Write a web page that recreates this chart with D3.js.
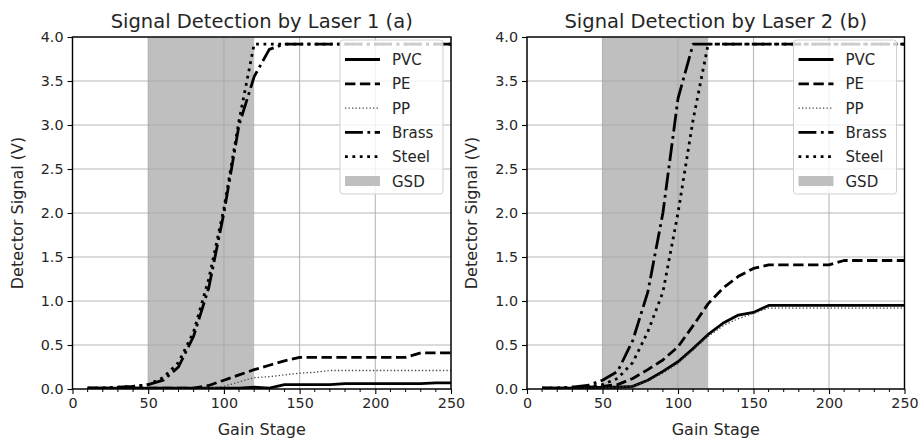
<!DOCTYPE html>
<html>
<head>
<meta charset="utf-8">
<script src="https://cdn.jsdelivr.net/npm/d3@7"></script>
<style>
  body { margin: 0; background: #fff; }
  svg { display: block; font-family: "DejaVu Sans", sans-serif; }
</style>
</head>
<body>
<svg id="chart" width="921" height="439"></svg>
<script>
// gain stages sampled (x axis)
const gainStage = [10, 20, 30, 40, 50, 60, 70, 80, 90, 100, 110, 120, 130,
                   140, 150, 160, 170, 180, 190, 200, 210, 220, 230, 240, 250];

// Laser 1 (a)
const pvc1   = [0.01, 0.01, 0.01, 0.01, 0.01, 0.01, 0.01, 0.01, 0.01, 0.01, 0.01, 0.02, 0.01,
                0.05, 0.05, 0.05, 0.05, 0.06, 0.06, 0.06, 0.06, 0.06, 0.06, 0.07, 0.07];
const pe1    = [0.01, 0.01, 0.01, 0.01, 0.01, 0.01, 0.01, 0.01, 0.04, 0.10, 0.16, 0.22, 0.27,
                0.32, 0.36, 0.36, 0.36, 0.36, 0.36, 0.36, 0.36, 0.36, 0.41, 0.41, 0.41];
const pp1    = [0.00, 0.00, 0.00, 0.00, 0.00, 0.00, 0.00, 0.00, 0.01, 0.03, 0.08, 0.13, 0.14,
                0.16, 0.18, 0.19, 0.21, 0.21, 0.21, 0.21, 0.21, 0.21, 0.21, 0.21, 0.21];
const brass1 = [0.01, 0.01, 0.02, 0.03, 0.05, 0.10, 0.25, 0.60, 1.15, 2.00, 3.00, 3.55, 3.86,
                3.92, 3.92, 3.92, 3.92, 3.92, 3.92, 3.92, 3.92, 3.92, 3.92, 3.92, 3.92];
const steel1 = [0.01, 0.01, 0.02, 0.03, 0.05, 0.13, 0.30, 0.65, 1.25, 2.05, 3.05, 3.92, 3.92,
                3.92, 3.92, 3.92, 3.92, 3.92, 3.92, 3.92, 3.92, 3.92, 3.92, 3.92, 3.92];

// Laser 2 (b)
const pvc2   = [0.01, 0.01, 0.01, 0.01, 0.02, 0.02, 0.03, 0.10, 0.20, 0.31, 0.46, 0.62, 0.75,
                0.84, 0.87, 0.95, 0.95, 0.95, 0.95, 0.95, 0.95, 0.95, 0.95, 0.95, 0.95];
const pe2    = [0.01, 0.01, 0.01, 0.02, 0.03, 0.05, 0.12, 0.22, 0.33, 0.48, 0.72, 0.97, 1.15,
                1.28, 1.37, 1.41, 1.41, 1.41, 1.41, 1.41, 1.46, 1.46, 1.46, 1.46, 1.46];
const pp2    = [0.00, 0.00, 0.00, 0.01, 0.01, 0.02, 0.03, 0.09, 0.18, 0.29, 0.44, 0.60, 0.72,
                0.80, 0.86, 0.92, 0.92, 0.92, 0.92, 0.92, 0.92, 0.92, 0.92, 0.92, 0.92];
const brass2 = [0.01, 0.01, 0.02, 0.04, 0.10, 0.20, 0.55, 1.10, 2.00, 3.30, 3.92, 3.92, 3.92,
                3.92, 3.92, 3.92, 3.92, 3.92, 3.92, 3.92, 3.92, 3.92, 3.92, 3.92, 3.92];
const steel2 = [0.01, 0.01, 0.02, 0.03, 0.05, 0.12, 0.30, 0.65, 1.10, 2.00, 3.06, 3.92, 3.92,
                3.92, 3.92, 3.92, 3.92, 3.92, 3.92, 3.92, 3.92, 3.92, 3.92, 3.92, 3.92];

const gsdRange = [50, 120];
const xTicks = [0, 50, 100, 150, 200, 250];
const yTicks = [0, 0.5, 1.0, 1.5, 2.0, 2.5, 3.0, 3.5, 4.0];
const seriesNames = ["PVC", "PE", "PP", "Brass", "Steel"];

const styles = {
  PVC:   { width: 2.8, dash: null, color: "#000" },
  PE:    { width: 2.8, dash: "10.4,4.5", color: "#000" },
  PP:    { width: 1.3, dash: "1.3,2.2", color: "#444" },
  Brass: { width: 2.8, dash: "17.9,4.5,2.8,4.5", color: "#000" },
  Steel: { width: 2.8, dash: "2.8,4.6", color: "#000" }
};

const svg = d3.select("#chart");
const textColor = "#262626";

function drawPanel(left, right, title, values, id) {
  const top = 37, bottom = 389;
  const x = d3.scaleLinear().domain([0, 250]).range([left, right]);
  const y = d3.scaleLinear().domain([0, 4]).range([bottom, top]);
  const g = svg.append("g");

  g.append("clipPath").attr("id", "clip" + id)
    .append("rect").attr("x", left).attr("y", top)
    .attr("width", right - left).attr("height", bottom - top);

  // shaded GSD band
  g.append("rect")
    .attr("x", x(gsdRange[0])).attr("y", top)
    .attr("width", x(gsdRange[1]) - x(gsdRange[0])).attr("height", bottom - top)
    .attr("fill", "#bfbfbf");

  // grid
  g.append("g").selectAll("line").data(xTicks).join("line")
    .attr("x1", d => x(d)).attr("x2", d => x(d))
    .attr("y1", top).attr("y2", bottom)
    .attr("stroke", "#a8a8a8").attr("stroke-width", 1.1).attr("opacity", 0.8);
  g.append("g").selectAll("line").data(yTicks).join("line")
    .attr("x1", left).attr("x2", right)
    .attr("y1", d => y(d)).attr("y2", d => y(d))
    .attr("stroke", "#a8a8a8").attr("stroke-width", 1.1).attr("opacity", 0.8);

  // lines
  const line = d3.line().x(d => x(d[0])).y(d => y(d[1]));
  const lines = g.append("g").attr("clip-path", `url(#clip${id})`);
  seriesNames.forEach((name, i) => {
    const st = styles[name];
    lines.append("path")
      .datum(gainStage.map((gs, k) => [gs, values[i][k]]))
      .attr("d", line)
      .attr("fill", "none")
      .attr("stroke", st.color)
      .attr("stroke-width", st.width)
      .attr("stroke-dasharray", st.dash)
      .attr("stroke-linejoin", "round");
  });

  // axes
  const xAxis = d3.axisBottom(x).tickValues(xTicks).tickFormat(d3.format("d"))
    .tickSize(5).tickPadding(4);
  const gx = g.append("g").attr("transform", `translate(0,${bottom})`).call(xAxis);
  gx.select(".domain").remove();
  gx.append("g").selectAll("line").data(d3.range(10, 250, 10).filter(v => v % 50 !== 0))
    .join("line")
    .attr("x1", d => x(d)).attr("x2", d => x(d)).attr("y1", 0).attr("y2", 3)
    .attr("stroke", "#000").attr("stroke-width", 1);
  gx.selectAll(".tick line").attr("stroke", "#000").attr("stroke-width", 1.1);
  gx.selectAll("text").attr("font-size", 14.3).attr("fill", textColor)
    .attr("font-family", "DejaVu Sans");

  const yAxis = d3.axisLeft(y).tickValues(yTicks).tickFormat(d3.format(".1f"))
    .tickSize(5).tickPadding(4);
  const gy = g.append("g").attr("transform", `translate(${left},0)`).call(yAxis);
  gy.select(".domain").remove();
  gy.selectAll(".tick line").attr("stroke", "#000").attr("stroke-width", 1.1);
  gy.selectAll("text").attr("font-size", 14.3).attr("fill", textColor)
    .attr("font-family", "DejaVu Sans");

  // frame
  g.append("rect").attr("x", left).attr("y", top)
    .attr("width", right - left).attr("height", bottom - top)
    .attr("fill", "none").attr("stroke", "#000").attr("stroke-width", 1.4);

  // labels
  g.append("text").attr("x", (left + right) / 2).attr("y", 28)
    .attr("text-anchor", "middle").attr("font-size", 19.5).attr("fill", textColor)
    .text(title);
  g.append("text").attr("x", (left + right) / 2).attr("y", 435)
    .attr("text-anchor", "middle").attr("font-size", 16).attr("fill", textColor)
    .text("Gain Stage");
  g.append("text")
    .attr("transform", `translate(${left - 50},${(top + bottom) / 2}) rotate(-90)`)
    .attr("text-anchor", "middle").attr("font-size", 16).attr("fill", textColor)
    .text("Detector Signal (V)");

  // legend
  const lx = right - 111, ly = top + 3, lw = 103, lh = 154;
  const leg = g.append("g");
  leg.append("rect").attr("x", lx).attr("y", ly).attr("width", lw).attr("height", lh)
    .attr("rx", 3).attr("fill", "#fff").attr("fill-opacity", 0.8)
    .attr("stroke", "#d0d0d0").attr("stroke-width", 1);
  const rowY = i => ly + 19.5 + i * 24.3;
  seriesNames.forEach((name, i) => {
    const st = styles[name];
    leg.append("line")
      .attr("x1", lx + 5).attr("x2", lx + 40)
      .attr("y1", rowY(i)).attr("y2", rowY(i))
      .attr("stroke", st.color).attr("stroke-width", st.width)
      .attr("stroke-dasharray", st.dash);
    leg.append("text").attr("x", lx + 52).attr("y", rowY(i) + 5.5)
      .attr("font-size", 15).attr("fill", textColor).text(name);
  });
  leg.append("rect").attr("x", lx + 5).attr("y", rowY(5) - 5)
    .attr("width", 35).attr("height", 10).attr("fill", "#bfbfbf");
  leg.append("text").attr("x", lx + 52).attr("y", rowY(5) + 5.5)
    .attr("font-size", 15).attr("fill", textColor).text("GSD");
}

drawPanel(72.5, 451, "Signal Detection by Laser 1 (a)",
  [pvc1, pe1, pp1, brass1, steel1], 1);
drawPanel(527, 904.5, "Signal Detection by Laser 2 (b)",
  [pvc2, pe2, pp2, brass2, steel2], 2);
</script>
</body>
</html>
